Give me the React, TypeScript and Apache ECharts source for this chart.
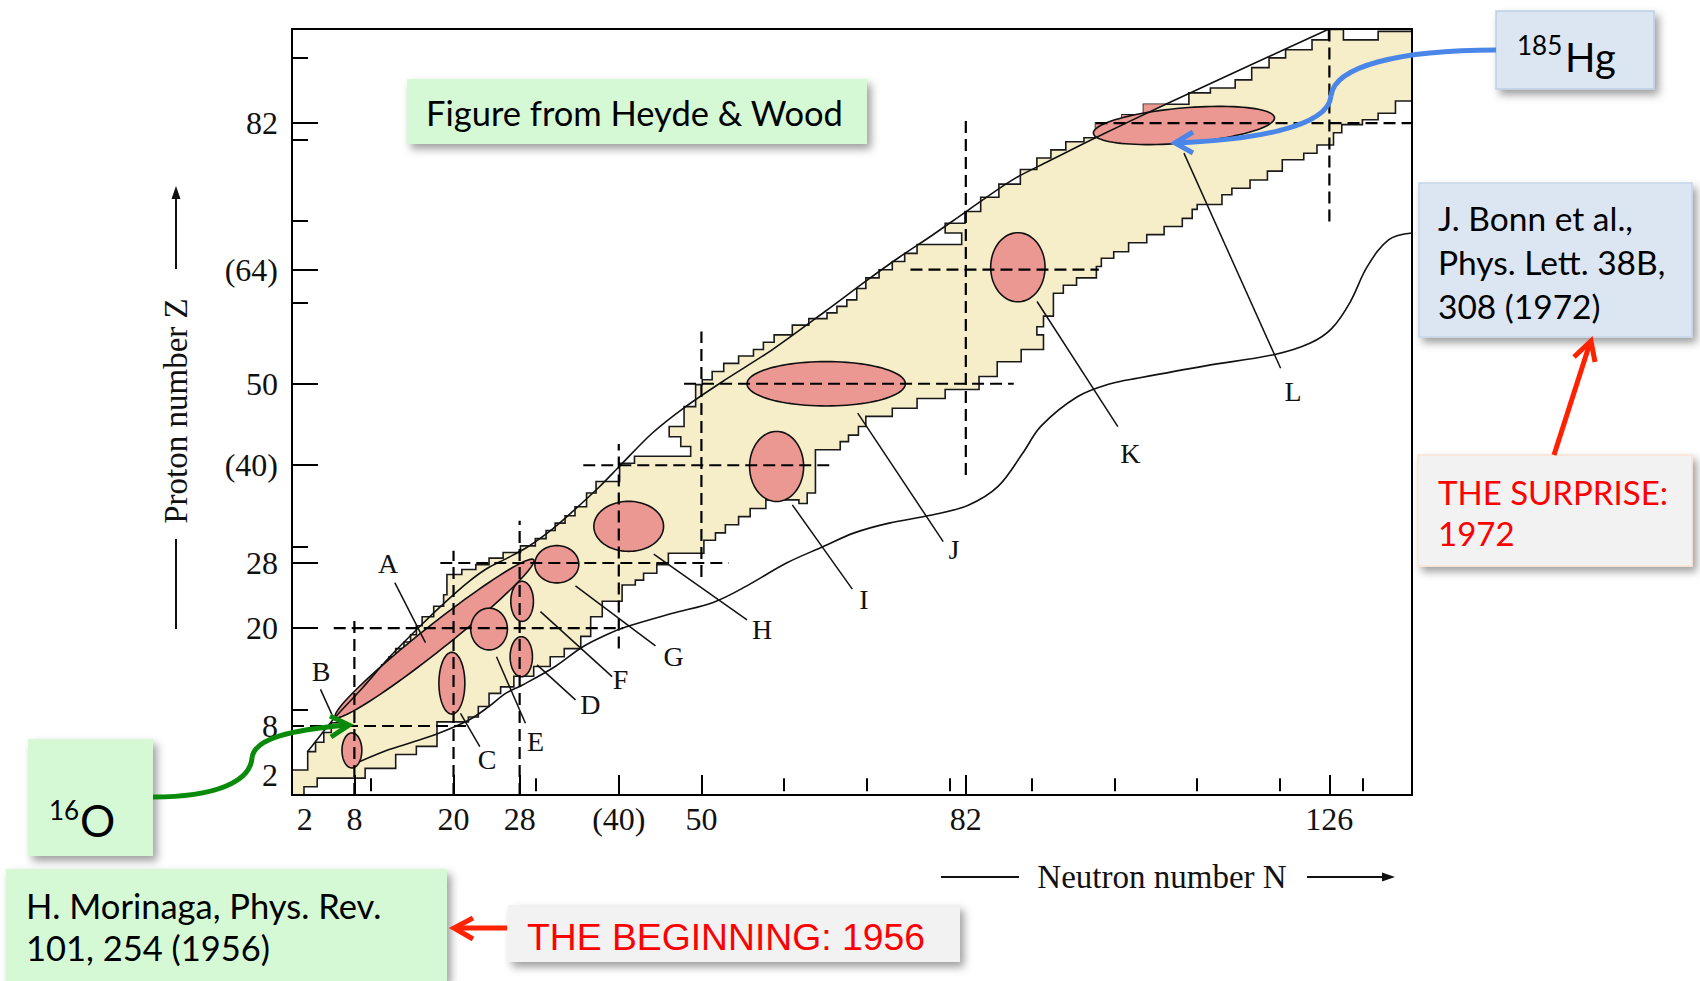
import React, { useEffect, useRef } from "react";
import * as echarts from "echarts";

// ---- axis ranges (neutron number N on x, proton number Z on y)
const N_MIN = 0.45;
const N_MAX = 136.0;
const Z_MIN = -0.47;
const Z_MAX = 93.54;

// ---- tick labels / ticks
const nLabelValues = [2, 8, 20, 28, 40, 50, 82, 126];
const zLabelValues = [2, 8, 20, 28, 40, 50, 64, 82];
const bracketed = [40, 64];
const nMajorTicks = [8, 20, 28, 40, 50, 82, 126];
const nMinorTicks = [10, 30, 60, 70, 80, 90, 100, 110, 120, 130];
const zMajorTicks = [20, 28, 40, 50, 64, 82];
const zMinorTicks = [10, 30, 60, 70, 80, 90];

// ---- staircase boundary of known nuclei: [N of vertical edge, Z at its top]
const upperSteps = [
  [0.45, 2.6], [2.35, 4.85], [3.3, 6.0], [4.3, 7.2], [5.2, 8.4], [6.1, 9.6], [7.0, 10.6], [7.9, 11.6],
  [8.7, 12.8], [9.5, 13.6], [10.5, 14.5], [11.3, 15.5], [12.2, 16.5], [13.0, 17.5], [14.0, 18.3],
  [14.8, 19.2], [15.5, 20.3], [16.2, 21.4], [17.6, 22.7], [18.8, 24.1], [19.2, 26.6], [21.0, 27.2],
  [22.7, 27.8], [24.3, 28.6], [26.0, 29.3], [28.1, 30.1], [29.9, 31.0], [31.2, 32.0], [32.3, 32.9],
  [33.5, 33.8], [34.7, 34.9], [36.1, 36.6], [37.25, 38.0], [40.1, 40.25], [41.9, 41.1], [48.7, 42.3],
  [47.5, 43.5], [46.1, 44.75], [47.9, 47.2], [49.3, 49.9], [50.1, 50.5], [51.3, 51.5], [52.7, 52.5],
  [54.5, 53.4], [56.3, 54.2], [57.5, 55.1], [58.8, 56.0], [61.0, 57.2], [63.0, 58.0], [65.2, 58.7],
  [66.4, 59.5], [67.6, 60.3], [68.8, 61.7], [69.9, 63.0], [71.5, 64.0], [73.1, 65.0], [74.6, 66.0],
  [76.1, 67.1], [81.5, 68.5], [79.5, 69.7], [81.9, 71.15], [83.8, 72.9], [86.0, 74.5], [88.6, 76.3],
  [90.6, 77.7], [92.3, 78.7], [94.1, 79.7], [96.3, 80.2], [97.7, 82.0], [100.9, 83.0], [103.5, 84.3],
  [109.0, 85.7], [111.6, 86.3], [114.6, 87.3], [116.6, 88.8], [118.7, 90.0], [120.7, 91.0],
  [123.9, 92.2], [125.9, 93.5], [127.7, 93.5], [127.7, 92.2], [131.9, 92.2], [131.9, 93.25], [136.0, 93.25],
];
const lowerSteps = [
  [1.9, 0.55], [3.5, 1.6], [9.3, 2.8], [13.0, 4.5], [15.5, 5.5], [18.0, 8.5], [21.8, 9.1], [23.0, 10.4],
  [24.3, 12.0], [25.7, 12.8], [27.3, 14.1], [29.7, 15.3], [31.7, 16.5], [33.4, 17.5], [35.4, 19.0],
  [36.6, 21.4], [38.0, 23.3], [40.4, 25.3], [42.0, 25.9], [43.0, 26.75], [44.6, 27.8], [46.0, 29.2],
  [50.3, 30.8], [51.7, 31.7], [52.9, 32.7], [54.5, 33.7], [55.9, 34.7], [57.8, 35.75], [61.8, 35.75],
  [61.8, 35.3], [62.8, 36.6], [63.8, 41.9], [66.8, 42.9], [67.8, 43.7], [69.0, 44.75], [69.9, 46.0],
  [73.1, 47.0], [76.1, 48.2], [79.5, 49.3], [83.6, 50.9], [85.8, 52.7], [88.7, 54.2], [91.4, 56.0],
  [90.6, 57.0], [91.4, 58.3], [92.6, 61.1], [93.8, 62.1], [95.4, 63.0], [97.8, 64.4], [98.4, 65.4],
  [99.9, 66.2], [101.7, 67.3], [103.9, 68.3], [106.0, 69.3], [108.2, 70.3], [109.4, 71.4], [110.0, 72.0],
  [113.0, 73.2], [114.2, 74.0], [116.4, 75.0], [118.5, 76.1], [120.3, 77.5], [122.9, 78.3], [124.5, 79.3],
  [126.5, 80.8], [127.5, 81.8], [130.0, 82.4], [131.9, 83.2], [134.0, 84.7], [136.0, 84.7],
];

// ---- smooth limit curves
const upperCurve = [
  [2.3, 4.8], [4.0, 7.0], [5.7, 9.1], [9.0, 12.7], [12.2, 16.4], [16.0, 20.3], [19.0, 23.2], [21.7, 25.6],
  [24.0, 27.3], [26.5, 28.6], [29.0, 30.0], [32.0, 32.2], [34.5, 34.4], [37.6, 37.3], [40.2, 40.0],
  [44.0, 43.9], [48.1, 47.2], [52.9, 50.5], [58.6, 54.2], [65.0, 58.9], [69.9, 62.6], [73.9, 65.5],
  [77.9, 68.2], [82.0, 71.1], [87.6, 75.0], [92.0, 77.3], [97.7, 80.2], [106.2, 84.3], [116.0, 88.9],
  [125.9, 93.5],
];
const lowerCurve = [
  [8.6, 3.6], [12.2, 5.1], [15.0, 6.0], [18.2, 7.1], [21.8, 8.7], [24.3, 10.4], [26.3, 12.0], [28.3, 13.0],
  [32.3, 15.3], [35.6, 17.7], [38.5, 19.2], [41.0, 20.2], [46.4, 21.8], [51.5, 23.2], [55.5, 25.2],
  [60.3, 28.0], [64.7, 30.0], [68.5, 31.7], [72.7, 32.9], [77.9, 33.9], [82.3, 35.1], [85.9, 37.4],
  [88.9, 41.5], [91.1, 44.8], [95.5, 48.4], [99.5, 50.0], [102.9, 50.7], [111.0, 52.2], [119.4, 53.6],
  [123.7, 55.0], [126.3, 56.8], [128.5, 60.0], [130.6, 64.4], [133.2, 67.7], [136.0, 68.5],
];

// ---- dashed magic-number lines [N1, Z1, N2, Z2]
const magicLines = [
  [0.45, 8, 21.5, 8], [8, -0.47, 8, 21.2],
  [5.5, 20, 40.5, 20], [20, -0.47, 20, 29.5],
  [18.4, 28, 53.3, 28], [28, -0.47, 28, 33.2],
  [35.7, 40, 66.1, 40], [40, 17.5, 40, 42.6],
  [47.9, 50, 87.8, 50], [50, 26.3, 50, 56.4],
  [75.3, 64, 98.1, 64], [82, 38.8, 82, 82.8],
  [97.7, 82, 136.0, 82], [126, 69.9, 126, 93.54],
];

// ---- pink steps above the limit curve near 185Hg
const hgPatch = [[97.7, 80.2], [97.7, 82.0], [100.9, 82.0], [100.9, 83.0], [103.5, 83.0], [103.5, 84.3], [106.2, 84.3]];

// ---- deformation regions: [N centre, Z centre, semi-axis 1, semi-axis 2, angle deg]
const ellipses = [
  [7.7, 5.0, 1.2, 2.15, 0],
  [17.7, 18.75, 15.4, 1.55, 38.8],
  [19.8, 13.25, 1.57, 3.79, 0],
  [24.3, 19.9, 2.22, 2.56, 0],
  [28.2, 16.5, 1.35, 2.46, 0],
  [28.3, 23.3, 1.37, 2.46, 0],
  [32.5, 27.85, 2.66, 2.29, 0],
  [41.2, 32.5, 4.22, 3.07, 0],
  [59.1, 39.85, 3.27, 4.3, 0],
  [65.1, 50.0, 9.58, 2.72, 0],
  [88.3, 64.3, 3.29, 4.24, 0],
  [108.4, 81.7, 11.0, 2.15, 5],
];

// ---- region letters and leader lines
const letters = ["A", "B", "C", "D", "E", "F", "G", "H", "I", "J", "K", "L"];
const letterPos = [
  [12.08, 27.98], [3.97, 14.67], [24.06, 3.83], [36.57, 10.58], [29.92, 6.08], [40.2, 13.65],
  [46.65, 16.51], [57.34, 19.79], [69.67, 23.56], [80.57, 29.61], [101.9, 41.49], [121.6, 49.05],
];
const leaderLines = [
  [12.89, 25.6, 16.6, 18.23], [3.9, 12.5, 5.3, 9.36], [20.84, 9.56, 23.18, 5.46], [30.11, 15.5, 34.76, 11.2],
  [25.2, 16.5, 28.7, 8.34], [30.52, 22.04, 39.19, 14.06], [34.76, 25.19, 44.44, 17.83], [44.23, 29.09, 55.52, 21.02],
  [61.0, 35.14, 68.26, 24.79], [68.92, 46.4, 79.26, 30.63], [90.62, 60.1, 100.4, 44.75], [108.4, 78.3, 120.1, 51.9],
];

function stairs(start: number[], steps: number[][]) {
  const pts: number[][] = [start];
  let prev = start;
  for (const p of steps) {
    pts.push([p[0], prev[1]]);
    pts.push(p);
    prev = p;
  }
  return pts;
}

const SERIF = "Liberation Serif";
const SANS = "Lato";
const INK = "#111";

function buildOption() {
  const regionPoly = stairs([N_MIN, Z_MIN], upperSteps).concat(stairs([1.9, Z_MIN], lowerSteps).reverse());
  const labelFmt = (v: number) => (bracketed.includes(v) ? `(${v})` : `${v}`);
  const tickLine = { color: "#000", width: 2 };
  const boxShadow = { shadowBlur: 8, shadowOffsetX: 4, shadowOffsetY: 5, shadowColor: "rgba(0,0,0,0.38)" };

  const xBase = { type: "value", min: N_MIN, max: N_MAX, z: 10, splitLine: { show: false } };
  const yBase = { type: "value", min: Z_MIN, max: Z_MAX, z: 10, splitLine: { show: false } };

  const txt = (x: number, y: number, text: string, size: number, color = "#000", family = SANS) => ({
    type: "text", x, y, z: 100, silent: true,
    style: { text, fontSize: size, fontFamily: family, fill: color, align: "left", verticalAlign: "middle" },
  });
  const box = (x: number, y: number, w: number, h: number, fill: string, stroke?: string) => ({
    type: "rect", z: 99, silent: true, shape: { x, y, width: w, height: h },
    style: { fill, stroke: stroke || null, lineWidth: stroke ? 1.5 : 0, ...boxShadow },
  });

  return {
    animation: false,
    backgroundColor: "#ffffff",
    grid: { left: 292, top: 29, width: 1120, height: 766, show: false },
    xAxis: [
      {
        ...xBase, position: "bottom",
        axisLine: { show: true, onZero: false, lineStyle: tickLine },
        axisTick: { show: true, inside: true, length: 20, customValues: nMajorTicks, lineStyle: tickLine },
        axisLabel: { show: true, customValues: nLabelValues, formatter: labelFmt, fontFamily: SERIF, fontSize: 32, color: INK, margin: 8 },
      },
      {
        ...xBase, position: "bottom",
        axisLine: { show: false },
        axisTick: { show: true, inside: true, length: 13, customValues: nMinorTicks, lineStyle: tickLine },
        axisLabel: { show: false },
      },
      {
        ...xBase, position: "top",
        axisLine: { show: true, onZero: false, lineStyle: tickLine },
        axisTick: { show: false }, axisLabel: { show: false },
      },
    ],
    yAxis: [
      {
        ...yBase, position: "left",
        axisLine: { show: true, onZero: false, lineStyle: tickLine },
        axisTick: { show: true, inside: true, length: 26, customValues: zMajorTicks, lineStyle: tickLine },
        axisLabel: { show: true, customValues: zLabelValues, formatter: labelFmt, fontFamily: SERIF, fontSize: 32, color: INK, margin: 14 },
      },
      {
        ...yBase, position: "left",
        axisLine: { show: false },
        axisTick: { show: true, inside: true, length: 16, customValues: zMinorTicks, lineStyle: tickLine },
        axisLabel: { show: false },
      },
      {
        ...yBase, position: "right",
        axisLine: { show: true, onZero: false, lineStyle: tickLine },
        axisTick: { show: false }, axisLabel: { show: false },
      },
    ],
    series: [
      {
        type: "custom", name: "known nuclei", z: 1, clip: true, silent: true,
        data: [[60, 40]],
        renderItem: (_p: any, api: any) => ({
          type: "polygon",
          shape: { points: regionPoly.map((p) => api.coord(p)) },
          style: { fill: "#f6edc9", stroke: "#1a1a1a", lineWidth: 1.6 },
        }),
      },
      {
        type: "custom", name: "Hg steps", z: 2, clip: true, silent: true,
        data: [[100, 82]],
        renderItem: (_p: any, api: any) => ({
          type: "polygon",
          shape: { points: hgPatch.map((p) => api.coord(p)) },
          style: { fill: "#eb9893" },
        }),
      },
      {
        type: "custom", name: "deformed regions", z: 3, clip: true, silent: true,
        data: ellipses.map((e) => [e[0], e[1]]),
        renderItem: (params: any, api: any) => {
          const [cx, cz, a, b, ang] = ellipses[params.dataIndex];
          const t = (ang * Math.PI) / 180;
          const pts: number[][] = [];
          for (let k = 0; k < 96; k++) {
            const th = (k / 96) * Math.PI * 2;
            const dx = a * Math.cos(th);
            const dy = b * Math.sin(th);
            pts.push(api.coord([cx + dx * Math.cos(t) - dy * Math.sin(t), cz + dx * Math.sin(t) + dy * Math.cos(t)]));
          }
          return { type: "polygon", shape: { points: pts }, style: { fill: "#eb9893", stroke: "#111", lineWidth: 1.6 } };
        },
      },
      {
        type: "line", name: "proton limit", z: 4, data: upperCurve, smooth: 0.3, showSymbol: false, symbol: "none",
        lineStyle: { color: INK, width: 1.6 }, silent: true,
      },
      {
        type: "line", name: "neutron limit", z: 4, data: lowerCurve, smooth: 0.35, showSymbol: false, symbol: "none",
        lineStyle: { color: INK, width: 1.6 }, silent: true,
      },
      {
        type: "custom", name: "magic numbers", z: 5, clip: true, silent: true,
        data: magicLines, encode: { x: [0, 2], y: [1, 3] },
        renderItem: (_p: any, api: any) => {
          const p1 = api.coord([api.value(0), api.value(1)]);
          const p2 = api.coord([api.value(2), api.value(3)]);
          return {
            type: "line", shape: { x1: p1[0], y1: p1[1], x2: p2[0], y2: p2[1] },
            style: { stroke: "#000", lineWidth: 2.2, lineDash: [12, 6] },
          };
        },
      },
      {
        type: "custom", name: "leaders", z: 6, clip: true, silent: true,
        data: leaderLines, encode: { x: [0, 2], y: [1, 3] },
        renderItem: (_p: any, api: any) => {
          const p1 = api.coord([api.value(0), api.value(1)]);
          const p2 = api.coord([api.value(2), api.value(3)]);
          return {
            type: "line", shape: { x1: p1[0], y1: p1[1], x2: p2[0], y2: p2[1] },
            style: { stroke: INK, lineWidth: 1.5 },
          };
        },
      },
      {
        type: "custom", name: "letters", z: 6, clip: false, silent: true,
        data: letterPos,
        renderItem: (params: any, api: any) => {
          const p = api.coord([api.value(0), api.value(1)]);
          return {
            type: "text", x: p[0], y: p[1],
            style: { text: letters[params.dataIndex], fontSize: 28, fontFamily: SERIF, fill: INK, align: "center", verticalAlign: "middle" },
          };
        },
      },
    ],
    graphic: [
      // axis titles
      {
        type: "text", x: 176, y: 411, rotation: Math.PI / 2, z: 100, silent: true,
        style: { text: "Proton number Z", fontSize: 33, fontFamily: SERIF, fill: INK, align: "center", verticalAlign: "middle" },
      },
      { type: "line", z: 100, silent: true, shape: { x1: 176, y1: 269, x2: 176, y2: 196 }, style: { stroke: INK, lineWidth: 2 } },
      { type: "polygon", z: 100, silent: true, shape: { points: [[176, 186], [171.5, 199], [180.5, 199]] }, style: { fill: INK } },
      { type: "line", z: 100, silent: true, shape: { x1: 176, y1: 539, x2: 176, y2: 629 }, style: { stroke: INK, lineWidth: 2 } },
      {
        type: "text", x: 1162, y: 877, z: 100, silent: true,
        style: { text: "Neutron number N", fontSize: 33, fontFamily: SERIF, fill: INK, align: "center", verticalAlign: "middle" },
      },
      { type: "line", z: 100, silent: true, shape: { x1: 941, y1: 877, x2: 1019, y2: 877 }, style: { stroke: INK, lineWidth: 2 } },
      { type: "line", z: 100, silent: true, shape: { x1: 1307, y1: 877, x2: 1385, y2: 877 }, style: { stroke: INK, lineWidth: 2 } },
      { type: "polygon", z: 100, silent: true, shape: { points: [[1395, 877], [1382, 872.5], [1382, 881.5]] }, style: { fill: INK } },

      // Heyde & Wood label
      box(407, 79, 460, 65, "#d4f9d4"),
      txt(426, 112, "Figure from Heyde & Wood", 34.5),

      // 185Hg
      box(1496, 11, 158, 78, "#dce6f2", "#bccfe6"),
      txt(1517, 45, "185", 26),
      txt(1565, 57, "Hg", 40),
      {
        type: "bezierCurve", z: 101, silent: true,
        shape: { x1: 1496, y1: 50, cpx1: 1400, cpy1: 50, cpx2: 1334, cpy2: 66, x2: 1331, y2: 96 },
        style: { stroke: "#4a86e8", lineWidth: 5, fill: "none" },
      },
      {
        type: "bezierCurve", z: 101, silent: true,
        shape: { x1: 1331, y1: 96, cpx1: 1328, cpy1: 128, cpx2: 1250, cpy2: 140, x2: 1176, y2: 143 },
        style: { stroke: "#4a86e8", lineWidth: 5, fill: "none" },
      },
      {
        type: "polyline", z: 101, silent: true, shape: { points: [[1193, 132], [1175, 143], [1193, 153]] },
        style: { stroke: "#4a86e8", lineWidth: 5, fill: "none" },
      },

      // Bonn reference
      box(1419, 183, 273, 154, "#dce6f2", "#c6d5e9"),
      txt(1438, 218, "J. Bonn et al.,", 33.5),
      txt(1438, 262, "Phys. Lett. 38B,", 33.5),
      txt(1438, 306, "308 (1972)", 33.5),

      // surprise
      box(1418, 455, 274, 111, "#f2f2f2", "#fbe3d4"),
      txt(1438, 492, "THE SURPRISE:", 33, "#ff0000"),
      txt(1438, 533, "1972", 33, "#ff0000"),
      { type: "line", z: 101, silent: true, shape: { x1: 1554, y1: 455, x2: 1589, y2: 346 }, style: { stroke: "#ff2200", lineWidth: 5 } },
      {
        type: "polyline", z: 101, silent: true, shape: { points: [[1574, 357], [1591, 341], [1595, 362]] },
        style: { stroke: "#ff2200", lineWidth: 5, fill: "none" },
      },

      // 16O
      box(28, 739, 125, 117, "#d4f9d4"),
      txt(49, 810, "16", 26),
      txt(80, 820, "O", 44),
      {
        type: "bezierCurve", z: 101, silent: true,
        shape: { x1: 153, y1: 797, cpx1: 215, cpy1: 797, cpx2: 250, cpy2: 782, x2: 252, y2: 758 },
        style: { stroke: "#0a8a0a", lineWidth: 5, fill: "none" },
      },
      {
        type: "bezierCurve", z: 101, silent: true,
        shape: { x1: 252, y1: 758, cpx1: 254, cpy1: 738, cpx2: 292, cpy2: 730, x2: 347, y2: 725 },
        style: { stroke: "#0a8a0a", lineWidth: 5, fill: "none" },
      },
      {
        type: "polyline", z: 101, silent: true, shape: { points: [[330, 716], [349, 725], [331, 737]] },
        style: { stroke: "#0a8a0a", lineWidth: 5, fill: "none" },
      },

      // Morinaga reference
      box(6, 869, 441, 112, "#d4f9d4"),
      txt(26, 905, "H. Morinaga, Phys. Rev.", 34.5),
      txt(26, 947, "101, 254 (1956)", 34.5),

      // beginning
      box(508, 905, 452, 57, "#f2f2f2"),
      txt(527, 937, "THE BEGINNING: 1956", 37.3, "#ff0000", "Liberation Sans"),
      { type: "line", z: 101, silent: true, shape: { x1: 507, y1: 928, x2: 456, y2: 928 }, style: { stroke: "#ff2200", lineWidth: 5 } },
      {
        type: "polyline", z: 101, silent: true, shape: { points: [[473, 918], [454, 928], [473, 939]] },
        style: { stroke: "#ff2200", lineWidth: 5, fill: "none" },
      },
    ],
  };
}

export default function App() {
  const ref = useRef<HTMLDivElement>(null);
  useEffect(() => {
    if (!ref.current) return;
    const chart = echarts.init(ref.current, null, { renderer: "svg" });
    chart.setOption(buildOption() as any);
    return () => chart.dispose();
  }, []);
  return (
    <div
      ref={ref}
      style={{ position: "absolute", left: 0, top: 0, width: 1700, height: 981, background: "#fff" }}
    />
  );
}
